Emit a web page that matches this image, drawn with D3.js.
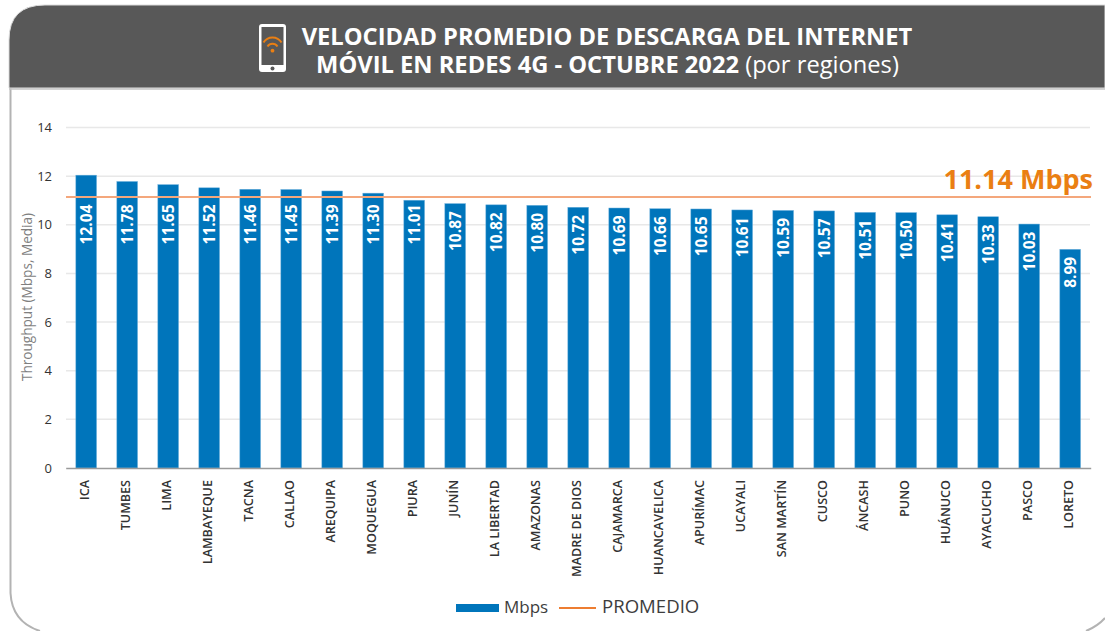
<!DOCTYPE html>
<html>
<head>
<meta charset="utf-8">
<script src="https://cdn.jsdelivr.net/npm/d3@7"></script>
<style>
  html, body { margin: 0; padding: 0; background: #fff; overflow: hidden; }
  text { font-family: "Open Sans", sans-serif; }
</style>
</head>
<body>
<div id="grafico"></div>
<script>
var regiones = ['ICA', 'TUMBES', 'LIMA', 'LAMBAYEQUE', 'TACNA', 'CALLAO', 'AREQUIPA', 'MOQUEGUA', 'PIURA', 'JUNÍN', 'LA LIBERTAD', 'AMAZONAS', 'MADRE DE DIOS', 'CAJAMARCA', 'HUANCAVELICA', 'APURÍMAC', 'UCAYALI', 'SAN MARTÍN', 'CUSCO', 'ÁNCASH', 'PUNO', 'HUÁNUCO', 'AYACUCHO', 'PASCO', 'LORETO'];
var mbps = [12.04, 11.78, 11.65, 11.52, 11.46, 11.45, 11.39, 11.30, 11.01, 10.87, 10.82, 10.80, 10.72, 10.69, 10.66, 10.65, 10.61, 10.59, 10.57, 10.51, 10.50, 10.41, 10.33, 10.03, 8.99];
var promedio = 11.14;
var ticksY = [0, 2, 4, 6, 8, 10, 12, 14];

var ancho = 1105, alto = 631;
var azul = '#0075bb', naranja = '#f4a77c', naranjaTexto = '#ea7f13';

var svg = d3.select('#grafico').append('svg')
  .attr('width', ancho)
  .attr('height', alto)
  .style('display', 'block');

// marco de la tarjeta
svg.append('path')
  .attr('d', 'M10.5,88 V593 Q12,622 40,631 M1086,631 Q1098,626 1105,618')
  .attr('fill', 'none')
  .attr('stroke', '#b3b3b3')
  .attr('stroke-width', 2);

// cabecera
svg.append('path')
  .attr('d', 'M9,88 V40 Q9,5 45,5 H1105 V88 Z')
  .attr('fill', '#585858')
  .attr('stroke', '#dcdcdc')
  .attr('stroke-width', 1);
svg.append('line')
  .attr('x1', 9).attr('x2', 1105).attr('y1', 89).attr('y2', 89)
  .attr('stroke', '#c4c4c4').attr('stroke-width', 1.5);

// icono del celular
var icono = svg.append('g').attr('transform', 'translate(259,24)');
icono.append('rect')
  .attr('width', 27).attr('height', 48).attr('rx', 3)
  .attr('fill', '#fff');
icono.append('rect')
  .attr('x', 2.5).attr('y', 3).attr('width', 22).attr('height', 38)
  .attr('fill', '#585858');
icono.append('circle')
  .attr('cx', 13.5).attr('cy', 44.5).attr('r', 2)
  .attr('fill', '#585858');
icono.append('path')
  .attr('d', 'M4.5,18.5 A10.5,10.5 0 0 1 22.5,18.5 M8.5,22.5 A5.9,5.9 0 0 1 18.5,22.5')
  .attr('fill', 'none')
  .attr('stroke', '#ea7f13')
  .attr('stroke-width', 2);
icono.append('circle')
  .attr('cx', 13.5).attr('cy', 26.7).attr('r', 1.9)
  .attr('fill', '#ea7f13');

// titulo
svg.append('text')
  .attr('x', 607).attr('y', 45)
  .attr('text-anchor', 'middle')
  .attr('fill', '#fff')
  .attr('font-size', 23.7)
  .attr('font-weight', 700)
  .text('VELOCIDAD PROMEDIO DE DESCARGA DEL INTERNET');
var titulo2 = svg.append('text')
  .attr('x', 607.5).attr('y', 73)
  .attr('text-anchor', 'middle')
  .attr('fill', '#fff')
  .attr('font-size', 23.7)
  .attr('font-weight', 700);
titulo2.append('tspan').text('MÓVIL EN REDES 4G - OCTUBRE 2022 ');
titulo2.append('tspan').attr('font-weight', 400).text('(por regiones)');

const xScale = d3.scaleBand()
  .domain(regiones)
  .range([65.7, 1090.7])
  .paddingInner(0.495)
  .paddingOuter(0.2475);

const yScale = d3.scaleLinear()
  .domain([0, 14])
  .range([468, 127.5]);

// rejilla
svg.append('g')
  .selectAll('line')
  .data(ticksY.filter(function (d) { return d > 0; }))
  .enter()
  .append('line')
  .attr('x1', 66)
  .attr('x2', 1090)
  .attr('y1', function (d) { return yScale(d); })
  .attr('y2', function (d) { return yScale(d); })
  .attr('stroke', '#e8e8e8')
  .attr('stroke-width', 1.5);

// eje y
const yAxis = d3.axisLeft(yScale).tickValues(ticksY).tickSize(0).tickPadding(14);
svg.append('g')
  .attr('transform', 'translate(66, 0)')
  .call(yAxis)
  .call(function (g) { g.select('.domain').remove(); })
  .selectAll('text')
  .attr('font-size', 13)
  .attr('fill', '#333')
  .style('font-family', '"Open Sans", sans-serif');

svg.append('text')
  .attr('transform', 'translate(32, 297) rotate(-90)')
  .attr('text-anchor', 'middle')
  .attr('font-size', 13.6)
  .attr('fill', '#7f7f7f')
  .text('Throughput (Mbps, Media)');

// barras
svg.selectAll('rect.bar')
  .data(mbps)
  .enter()
  .append('rect')
  .attr('class', 'bar')
  .attr('x', function (d, i) { return xScale(regiones[i]); })
  .attr('y', function (d) { return yScale(d); })
  .attr('width', xScale.bandwidth())
  .attr('height', function (d) { return yScale(0) - yScale(d); })
  .attr('fill', azul)
  .attr('stroke', '#6db0dc')
  .attr('stroke-width', 0.5);

// linea de promedio
svg.append('line')
  .attr('x1', 66)
  .attr('x2', 1091)
  .attr('y1', yScale(promedio))
  .attr('y2', yScale(promedio))
  .attr('stroke', naranja)
  .attr('stroke-width', 2);

// eje x
const xAxis = d3.axisBottom(xScale).tickSize(0).tickPadding(0);
var ejeX = svg.append('g')
  .attr('transform', 'translate(0, 468)')
  .call(xAxis);
ejeX.select('.domain')
  .attr('stroke', '#9a9a9a')
  .attr('stroke-width', 1.5);
ejeX.selectAll('.tick text')
  .attr('transform', 'translate(-1.5, 12) rotate(-90)')
  .attr('x', 0)
  .attr('y', 0)
  .attr('dy', '0.35em')
  .attr('text-anchor', 'end')
  .attr('font-size', 12.6)
  .attr('font-weight', 600)
  .attr('fill', '#333')
  .style('font-family', '"Open Sans", sans-serif');

// etiquetas de valores: las barras altas quedan debajo de la linea de promedio
svg.selectAll('text.valor')
  .data(mbps)
  .enter()
  .append('text')
  .attr('class', 'valor')
  .attr('transform', function (d, i) {
    var cx = xScale(regiones[i]) + xScale.bandwidth() / 2;
    var tope = d > 10.9 ? 204.5 : yScale(d) + 7.5;
    return 'translate(' + cx + ',' + tope + ') rotate(-90)';
  })
  .attr('dy', '0.35em')
  .attr('text-anchor', 'end')
  .attr('fill', '#fff')
  .attr('font-size', 15.5)
  .attr('font-weight', 700)
  .text(function (d) { return d.toFixed(2); });

// rotulo del promedio
svg.append('text')
  .attr('x', 1093)
  .attr('y', 189)
  .attr('text-anchor', 'end')
  .attr('fill', naranjaTexto)
  .attr('font-size', 27)
  .attr('font-weight', 700)
  .text(promedio.toFixed(2) + ' Mbps');

// leyenda
svg.append('rect')
  .attr('x', 456).attr('y', 604).attr('width', 43).attr('height', 8)
  .attr('fill', azul);
svg.append('text')
  .attr('x', 504).attr('y', 613)
  .attr('font-size', 17)
  .attr('fill', '#3d3d3d')
  .text('Mbps');
svg.append('line')
  .attr('x1', 559).attr('x2', 596).attr('y1', 608).attr('y2', 608)
  .attr('stroke', '#ed7d31')
  .attr('stroke-width', 2);
svg.append('text')
  .attr('x', 602).attr('y', 613)
  .attr('font-size', 18.6)
  .attr('fill', '#3d3d3d')
  .text('PROMEDIO');
</script>
</body>
</html>
